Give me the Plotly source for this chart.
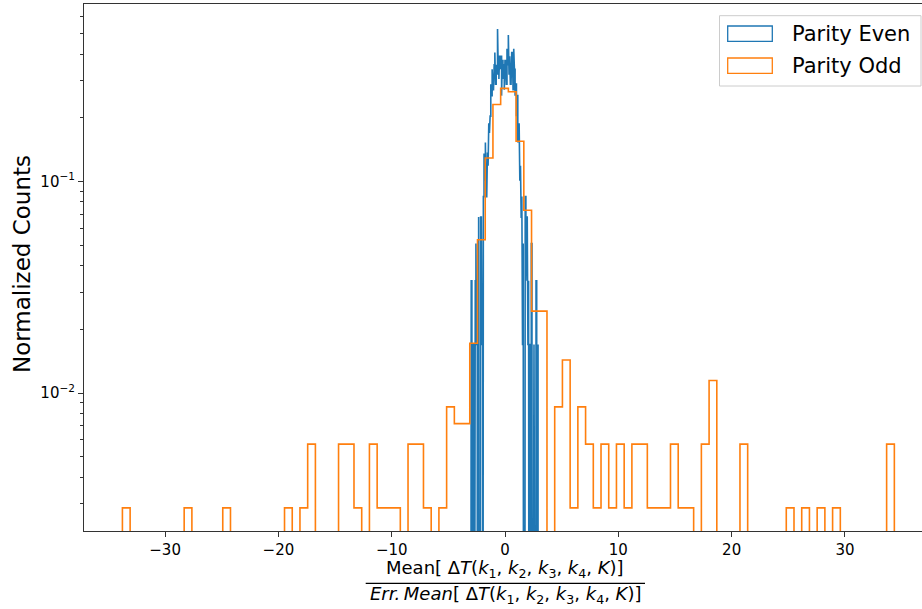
import numpy as np
import plotly.graph_objects as go

# ---------------------------------------------------------------------------
# Histogram data: raw counts in 100 equal-width bins per parity class
# ---------------------------------------------------------------------------
ODD_RANGE = (-33.77, 34.36)
ODD_COUNTS = [
    2, 0, 0, 0, 0, 0, 0, 0, 2, 0,
    0, 0, 0, 2, 0, 0, 0, 0, 0, 0,
    0, 2, 0, 2, 4, 0, 0, 0, 4, 4,
    2, 0, 4, 2, 2, 2, 0, 4, 4, 2,
    0, 2, 6, 5, 5, 12, 37, 90, 161, 192,
    185, 108, 51, 17, 17, 0, 6, 10, 2, 6,
    4, 2, 4, 2, 4, 2, 4, 4, 2, 2,
    2, 4, 2, 2, 0, 4, 8, 0, 0, 0,
    4, 0, 0, 0, 0, 0, 2, 0, 2, 0,
    2, 0, 2, 0, 0, 0, 0, 0, 0, 4,
]

EVEN_RANGE = (-3.045, 2.913)
EVEN_COUNTS = [
    1, 2, 0, 0, 1, 0, 1, 2, 3, 1,
    0, 2, 4, 0, 3, 4, 3, 1, 0, 5,
    8, 6, 9, 5, 6, 8, 7, 11, 10, 12,
    17, 15, 20, 16, 19, 21, 24, 17, 21, 19,
    31, 20, 18, 23, 20, 23, 15, 22, 18, 21,
    16, 22, 20, 17, 25, 21, 29, 19, 23, 17,
    21, 24, 18, 16, 25, 20, 15, 17, 12, 15,
    9, 11, 8, 6, 7, 4, 5, 1, 3, 0,
    4, 5, 2, 4, 3, 1, 2, 0, 1, 0,
    3, 0, 0, 1, 0, 0, 0, 2, 0, 1,
]

SERIES_NAMES = ["Parity Even", "Parity Odd"]
SERIES_COLORS = ["#1f77b4", "#ff7f0e"]

X_TICKS = [-30, -20, -10, 0, 10, 20, 30]
X_TICK_TEXT = ["−30", "−20", "−10", "0", "10", "20", "30"]
Y_TICKS = [1e-2, 1e-1]
Y_TICK_TEXT = ["10<sup>−2</sup>", "10<sup>−1</sup>"]

X_RANGE = [-37.16, 36.80]
Y_RANGE_LOG = [-2.652, -0.1616]

# figure geometry (pixels)
W, H = 922, 609
ML, MR, MT, MB = 84, 0, 4, 78
PW, PH = W - ML - MR, H - MT - MB


def px(x):
    return (x - ML) / PW


def py(y):
    return (H - MB - y) / PH


def step_outline(counts, lo, hi, floor=1e-6):
    """Outline of a density-normalised histogram drawn as a closed step."""
    counts = np.asarray(counts, dtype=float)
    edges = np.linspace(lo, hi, len(counts) + 1)
    dens = counts / (counts.sum() * (edges[1] - edges[0]))
    dens = np.where(dens > 0, dens, floor)
    xs = np.repeat(edges, 2)
    ys = np.concatenate([[floor], np.repeat(dens, 2), [floor]])
    return xs, ys


fig = go.Figure()
for counts, rng, name, color in [
    (EVEN_COUNTS, EVEN_RANGE, SERIES_NAMES[0], SERIES_COLORS[0]),
    (ODD_COUNTS, ODD_RANGE, SERIES_NAMES[1], SERIES_COLORS[1]),
]:
    xs, ys = step_outline(counts, *rng)
    fig.add_trace(go.Scatter(
        x=xs, y=ys, mode="lines", name=name,
        line=dict(color=color, width=1.6),
        hoverinfo="skip",
    ))

minor_vals = [k * 10.0 ** e for e in (-3, -2, -1) for k in range(2, 10)]

axis_color = "#333333"
fig.update_layout(
    width=W, height=H,
    margin=dict(l=ML, r=MR, t=MT, b=MB, pad=0),
    plot_bgcolor="white", paper_bgcolor="white",
    showlegend=False,
    font=dict(family="DejaVu Sans", color="black"),
    xaxis=dict(
        range=X_RANGE, tickvals=X_TICKS, ticktext=X_TICK_TEXT,
        ticks="outside", ticklen=5, tickwidth=1.1, tickcolor=axis_color,
        showline=True, linecolor=axis_color, linewidth=1.1, mirror=True,
        showgrid=False, zeroline=False,
        tickfont=dict(size=15, family="DejaVu Sans", color="black"),
    ),
    yaxis=dict(
        type="log", range=Y_RANGE_LOG,
        tickvals=Y_TICKS, ticktext=Y_TICK_TEXT,
        ticks="outside", ticklen=5, tickwidth=1.1, tickcolor=axis_color,
        minor=dict(tickvals=minor_vals, ticks="outside", ticklen=3,
                   tickwidth=0.8, tickcolor=axis_color),
        showline=True, linecolor=axis_color, linewidth=1.1, mirror=False,
        showgrid=False, zeroline=False,
        tickfont=dict(size=15, family="DejaVu Sans", color="black"),
    ),
)

# y-axis title
fig.add_annotation(
    x=px(22), y=py(264), xref="paper", yref="paper",
    text="Normalized Counts", textangle=-90, showarrow=False,
    xanchor="center", yanchor="middle",
    font=dict(size=23, family="DejaVu Sans", color="black"),
)

# x-axis title written as a fraction
frac_cx = 505.3
num = ("Mean[ Δ<i>T</i>(<i>k</i><sub>1</sub>, <i>k</i><sub>2</sub>, "
       "<i>k</i><sub>3</sub>, <i>k</i><sub>4</sub>, <i>K</i>)]")
den = ("<i>Err.\u2009Mean</i>[ Δ<i>T</i>(<i>k</i><sub>1</sub>, <i>k</i><sub>2</sub>, "
       "<i>k</i><sub>3</sub>, <i>k</i><sub>4</sub>, <i>K</i>)]")
fig.add_annotation(
    x=px(frac_cx), y=py(569), xref="paper", yref="paper", text=num,
    showarrow=False, xanchor="center", yanchor="middle",
    font=dict(size=18, family="DejaVu Sans", color="black"),
)
fig.add_annotation(
    x=px(frac_cx), y=py(595), xref="paper", yref="paper", text=den,
    showarrow=False, xanchor="center", yanchor="middle",
    font=dict(size=18, family="DejaVu Sans", color="black"),
)
fig.add_shape(
    type="line", xref="paper", yref="paper",
    x0=px(365.7), x1=px(645), y0=py(583.3), y1=py(583.3),
    line=dict(color="black", width=1.3),
)

# legend box with outlined patches
fig.add_shape(
    type="rect", xref="paper", yref="paper",
    x0=px(719.5), x1=px(921), y0=py(15.7), y1=py(86),
    line=dict(color="#cccccc", width=1), fillcolor="rgba(255,255,255,0.8)",
)
for i, (name, color) in enumerate(zip(SERIES_NAMES, SERIES_COLORS)):
    top = 26 + i * 32
    fig.add_shape(
        type="rect", xref="paper", yref="paper",
        x0=px(727.7), x1=px(772.3), y0=py(top), y1=py(top + 15.3),
        line=dict(color=color, width=1.3), fillcolor="rgba(0,0,0,0)",
    )
    fig.add_annotation(
        x=px(789.5), y=py(top + 7.6), xref="paper", yref="paper",
        text=name, showarrow=False, xanchor="left", yanchor="middle",
        font=dict(size=21, family="DejaVu Sans", color="black"),
    )

fig.write_html("out.html")
